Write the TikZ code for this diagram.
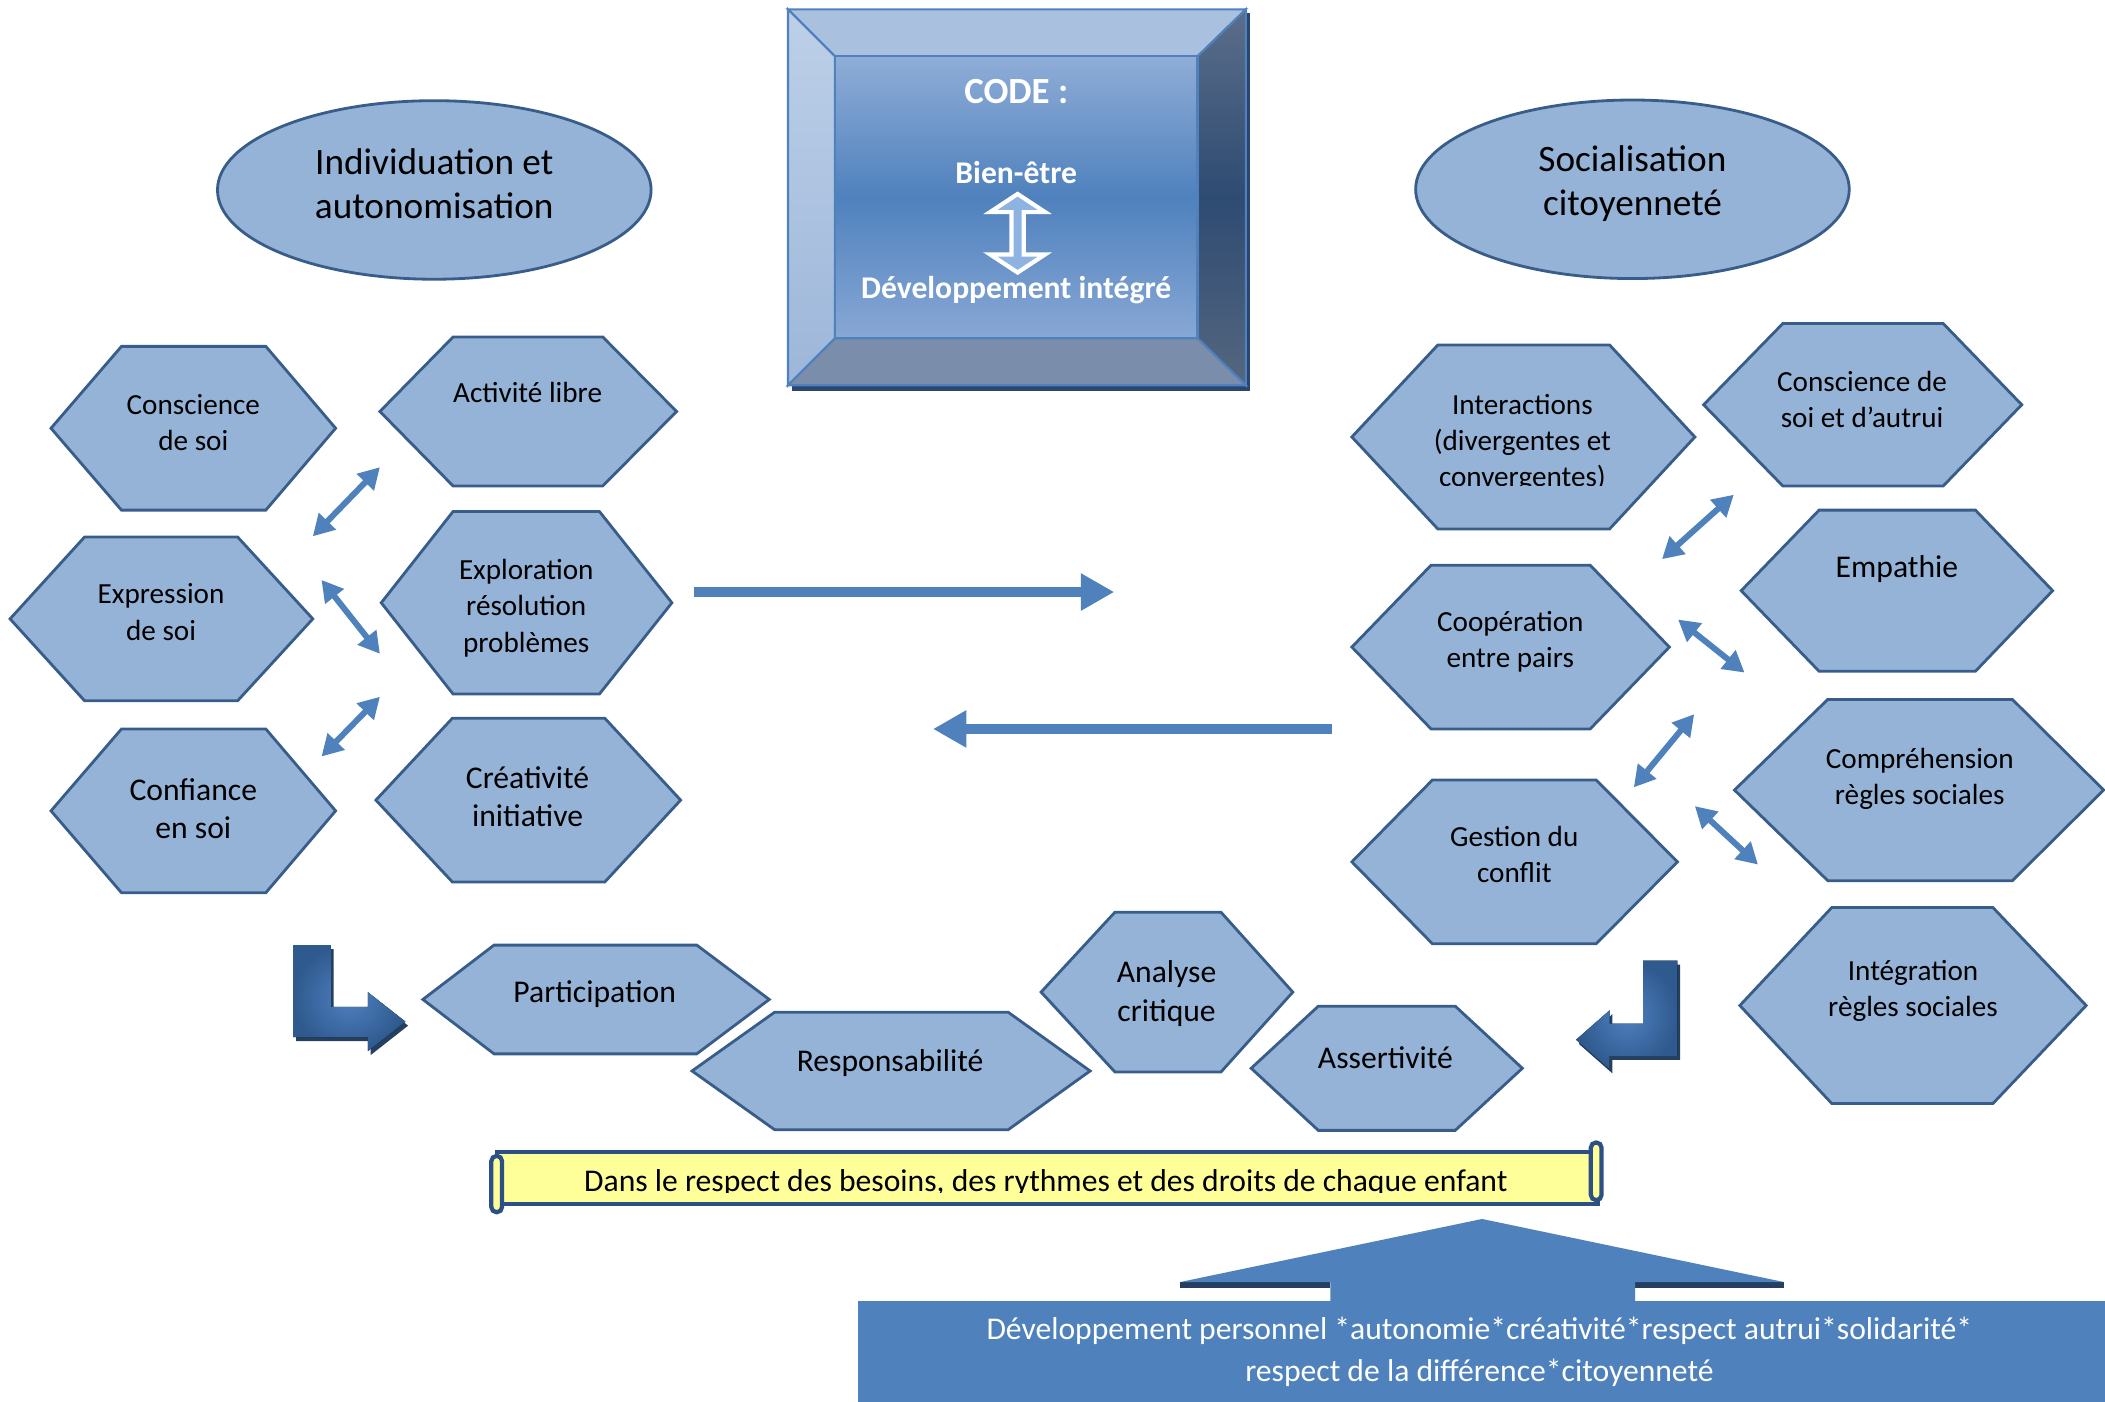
\documentclass[tikz,border=0pt]{standalone}
\usepackage{fontspec}
\setmainfont{Carlito}
\usetikzlibrary{arrows.meta,shapes.geometric}

\definecolor{hexblue}{HTML}{95B3D7}
\definecolor{hexline}{HTML}{385D8A}
\definecolor{myblue}{HTML}{4F81BD}
\definecolor{mynavy}{HTML}{243F60}
\definecolor{scrollyellow}{HTML}{FFFF99}
\definecolor{scrollline}{HTML}{2C4F86}
\definecolor{bentlight}{HTML}{4F80C0}
\definecolor{bentdark}{HTML}{2F5A8E}
\definecolor{codetop}{HTML}{A9C0DF}
\definecolor{codeleftT}{HTML}{BDD0E8}
\definecolor{codeleftB}{HTML}{9DB6D9}
\definecolor{coderightT}{HTML}{5B6E8A}
\definecolor{coderightM}{HTML}{2E4B72}
\definecolor{coderightB}{HTML}{55677F}
\definecolor{codebot}{HTML}{7A8EAB}
\definecolor{facetop}{HTML}{8FADD7}
\definecolor{facebot}{HTML}{88A8D5}
\definecolor{codeshadow}{HTML}{2A4670}
\definecolor{arrowlight}{HTML}{8DB3E2}

\def\px{0.013425cm}

% hexagon: left x, top-left x, top-right x, right x, top y, bottom y
\newcommand{\hexa}[6]{%
  \draw[hexa] (#1,{(#5+#6)/2}) -- (#2,#5) -- (#3,#5) -- (#4,{(#5+#6)/2})
    -- (#3,#6) -- (#2,#6) -- cycle;}

\begin{document}
\begin{tikzpicture}[x=\px,y=-\px,
        hexa/.style={fill=hexblue,draw=hexline,line width=0.8pt},
        hexs/.style={font=\fontsize{8.3}{10.3}\selectfont,align=center,inner sep=0pt},
        hexb/.style={font=\fontsize{9}{11}\selectfont,align=center,inner sep=0pt},
        oval/.style={ellipse,fill=hexblue,draw=hexline,line width=0.8pt,
          minimum width=323*\px,minimum height=133*\px,inner sep=0pt},
        ovaltxt/.style={font=\fontsize{10.6}{12.6}\selectfont,align=center,inner sep=0pt},
        dbl/.style={myblue,line width=1.7pt,
          {Triangle[length=6pt,width=6.5pt]}-{Triangle[length=6pt,width=6.5pt]}},
        long/.style={myblue,line width=3pt,-{Triangle[length=9.5pt,width=10pt]}},
        codetxt/.style={white,font=\bfseries\fontsize{9}{11}\selectfont,inner sep=0pt},
        bent/.style={inner color=bentlight,outer color=bentdark},
        scroll/.style={fill=scrollyellow,draw=scrollline,line width=1.2pt}
        ]
        \useasboundingbox (0,0) rectangle (1568,1044);

        % the code box
        \fill[codeshadow] (590,10) rectangle (931,291);
        \draw[draw=myblue,line width=0.6pt,fill=codetop]
          (587,7) -- (928,7) -- (892,42) -- (622,42) -- cycle;
        \draw[draw=myblue,line width=0.6pt,top color=codeleftT,bottom color=codeleftB]
          (587,7) -- (622,42) -- (622,252) -- (587,287) -- cycle;
        \draw[draw=myblue,line width=0.6pt,top color=coderightT,bottom color=coderightB,middle color=coderightM]
          (928,7) -- (928,287) -- (892,252) -- (892,42) -- cycle;
        \draw[draw=myblue,line width=0.6pt,fill=codebot]
          (587,287) -- (622,252) -- (892,252) -- (928,287) -- cycle;
        \draw[draw=myblue,line width=0.6pt,top color=facetop,bottom color=facebot,middle color=myblue]
          (622,42) rectangle (892,252);
        \node[codetxt,font=\bfseries\fontsize{10.5}{12}\selectfont] (code) at (757,68) {CODE :};
        \node[codetxt] (bien) at (757,128.5) {Bien-être};
        \node[codetxt] (devint) at (757,216) {Développement intégré};
        \draw[fill=arrowlight,draw=white,line width=1.2pt]
          (758,144.5) -- (778.5,158) -- (762.5,158) -- (762.5,189.5) -- (778.5,189.5)
          -- (758,203) -- (737.5,189.5) -- (753.5,189.5) -- (753.5,158) -- (737.5,158) -- cycle;

        % the two themes
        \node[oval] (indiv) at (323.5,141.5) {};
        \node[oval] (social) at (1216,141) {};
        \node[ovaltxt] (indivtxt) at (323.5,137) {Individuation et\\autonomisation};
        \node[ovaltxt] (socialtxt) at (1216,136.5) {Socialisation\\citoyenneté};

        % left hexagons
        \hexa{38}{90.5}{198}{250}{258}{380}
        \hexa{283}{337.5}{449}{504}{251}{362}
        \hexa{7.5}{63}{177}{233}{400}{522}
        \hexa{284}{337.5}{446.5}{500.5}{381}{517}
        \hexa{38}{90.5}{198}{250}{543}{665}
        \hexa{280}{337}{450.5}{507}{535}{657}
        \node[hexs] (csoi) at (144,314.5) {Conscience\\de soi};
        \node[hexs] (alibre) at (393,292) {Activité libre};
        \node[hexs] (esoi) at (120,456) {Expression\\de soi};
        \node[hexs] (explo) at (392,453) {Exploration\\résolution\\problèmes};
        \node[hexb] (confi) at (144,602.5) {Confiance\\en soi};
        \node[hexb] (creat) at (393,593.5) {Créativité\\initiative};

        % right hexagons
        \hexa{1007}{1071}{1199}{1262.5}{257}{394}
        \hexa{1269}{1328}{1447.5}{1506}{241}{362}
        \hexa{1007}{1066}{1184.5}{1243.5}{421}{543}
        \hexa{1297}{1355}{1471.5}{1529}{380}{500}
        \hexa{1292}{1361.5}{1499}{1567}{521}{656}
        \hexa{1007}{1067}{1189}{1249.5}{581}{703}
        \hexa{1296}{1364.5}{1484.5}{1554}{676}{822}
        \begin{scope}
        \clip (1007,257) rectangle (1263,362);
        \node[hexs] (inter) at (1134,330) {Interactions\\(divergentes et\\convergentes)};
        \end{scope}
        \node[hexs] (autrui) at (1387,297.5) {Conscience de\\soi et d’autrui};
        \node[hexs] (coop) at (1125,478) {Coopération\\entre pairs};
        \node[hexb] (empat) at (1413,424) {Empathie};
        \node[hexs] (compr) at (1430,580) {Compréhension\\règles sociales};
        \node[hexs] (gest) at (1128,636.5) {Gestion du\\conflit};
        \node[hexs] (integ) at (1425,738) {Intégration\\règles sociales};

        % bottom hexagons
        \hexa{315}{368}{519}{573}{704}{785}
        \hexa{515.5}{577}{751}{812}{754}{841.5}
        \hexa{775.5}{830.5}{909.5}{963}{679.5}{798.5}
        \hexa{932}{982}{1084}{1134}{749.5}{842}
        \node[hexb] (partic) at (443,740.5) {Participation};
        \node[hexb] (respo) at (663,791.5) {Responsabilité};
        \node[hexb] (analy) at (869,740) {Analyse\\critique};
        \node[hexb] (asser) at (1032,788) {Assertivité};

        % the small double arrows
        \coordinate (d1a) at (233,399.5);  \coordinate (d1b) at (283,348);
        \coordinate (d2a) at (239.5,432);  \coordinate (d2b) at (283,487);
        \coordinate (d3a) at (239.5,563.5);\coordinate (d3b) at (283,519);
        \coordinate (d4a) at (1238,416.5); \coordinate (d4b) at (1291.5,368.5);
        \coordinate (d5a) at (1250,461.5); \coordinate (d5b) at (1299.5,501);
        \coordinate (d6a) at (1217,586.5); \coordinate (d6b) at (1262,532);
        \coordinate (d7a) at (1262.5,600.5);\coordinate (d7b) at (1309.5,644);
        \draw[dbl] (d1a) -- (d1b);
        \draw[dbl] (d2a) -- (d2b);
        \draw[dbl] (d3a) -- (d3b);
        \draw[dbl] (d4a) -- (d4b);
        \draw[dbl] (d5a) -- (d5b);
        \draw[dbl] (d6a) -- (d6b);
        \draw[dbl] (d7a) -- (d7b);

        % the long arrows
        \coordinate (go1) at (517,441);  \coordinate (go2) at (830,441);
        \coordinate (back1) at (992,543); \coordinate (back2) at (695,543);
        \draw[long] (go1) -- (go2);
        \draw[long] (back1) -- (back2);

        % the bent arrows
        \fill[mynavy] (220.5,707) -- (248.5,707) -- (248.5,753) -- (276,753) -- (276,742)
          -- (304,764) -- (276,786) -- (276,775.5) -- (220.5,775.5) -- cycle;
        \fill[bent] (218.5,704) -- (246.5,704) -- (246.5,750) -- (274,750) -- (274,739)
          -- (302,761) -- (274,783) -- (274,772.5) -- (218.5,772.5) -- cycle;
        \fill[mynavy] (1226,718.5) -- (1251.5,718.5) -- (1251.5,789.5) -- (1201,789.5) -- (1201,799.5)
          -- (1176,777.5) -- (1201,755.5) -- (1201,765.5) -- (1226,765.5) -- cycle;
        \fill[bent] (1224,715.5) -- (1249.5,715.5) -- (1249.5,786.5) -- (1199,786.5) -- (1199,796.5)
          -- (1174,774.5) -- (1199,752.5) -- (1199,762.5) -- (1224,762.5) -- cycle;

        % the scroll
        \draw[scroll] (370,858) rectangle (1190,897);
        \draw[scroll,rounded corners=1.5pt] (366,861) rectangle (374,903);
        \draw[scroll,rounded corners=1.5pt] (1185,851) rectangle (1193,894);
        \begin{scope}
        \clip (372,859) rectangle (1189,888.3);
        \node[hexb,anchor=base] (respect) at (779,887.5)
          {Dans le respect des besoins, des rythmes et des droits de chaque enfant};
        \end{scope}

        % the base block
        \fill[mynavy] (879,955) rectangle (991,959.5);
        \fill[mynavy] (1218,955) rectangle (1329,959.5);
        \fill[myblue] (639,969) rectangle (1568,1044);
        \fill[myblue] (991,969) -- (991,955) -- (879,955) -- (1104,908) -- (1329,955)
          -- (1218,955) -- (1218,969) -- cycle;
        \node[white,align=center,inner sep=0pt,font=\fontsize{9}{11.8}\selectfont] (perso) at (1102,1007)
          {Développement personnel *autonomie*créativité*respect autrui*solidarité*\\respect de la différence*citoyenneté};
\end{tikzpicture}
\end{document}
